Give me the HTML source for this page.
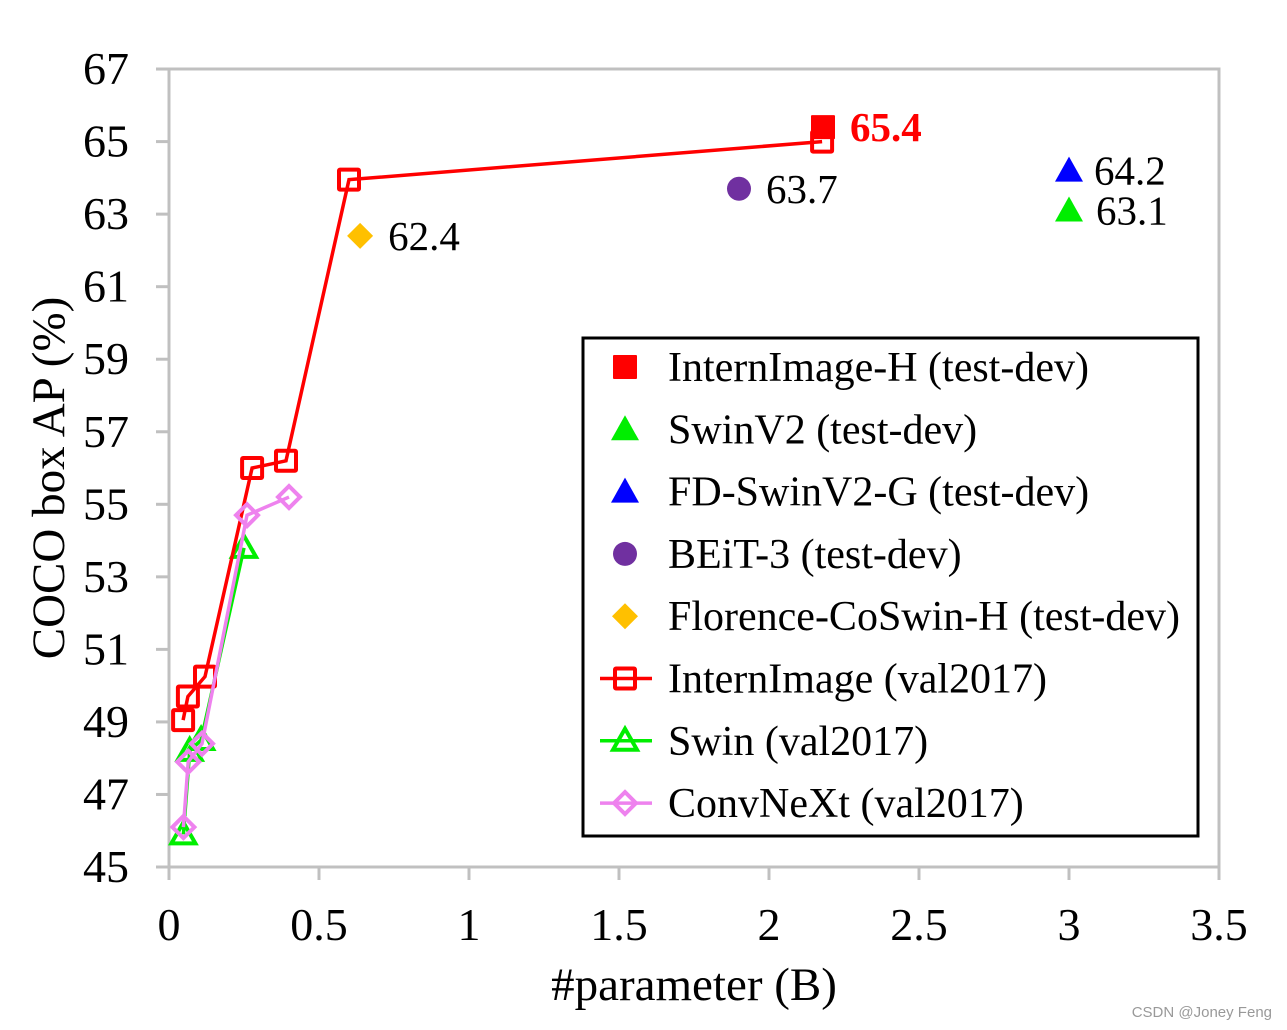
<!DOCTYPE html>
<html><head><meta charset="utf-8"><style>
html,body{margin:0;padding:0;background:#fff;width:1287px;height:1030px;overflow:hidden}
svg text{font-family:"Liberation Serif",serif}
</style></head><body>
<svg id="chart" width="1287" height="1030" xmlns="http://www.w3.org/2000/svg">
<g id="axes"></g><g id="series"></g><g id="legend"></g>
<text x="1272" y="1017" text-anchor="end" font-size="15" fill="#999" style="font-family:'Liberation Sans',sans-serif">CSDN @Joney Feng</text>
</svg>
<script>
const xTicks=[0,0.5,1,1.5,2,2.5,3,3.5];
const xTickLabels=["0","0.5","1","1.5","2","2.5","3","3.5"];
const yTicks=[45,47,49,51,53,55,57,59,61,63,65,67];
const internX=[0.047,0.063,0.12,0.277,0.39,0.6,2.177];
const internY=[49.05,49.7,50.25,56.0,56.2,63.95,65.0];
const swinX=[0.048,0.069,0.107,0.25];
const swinY=[45.9,48.2,48.5,53.8];
const convX=[0.048,0.064,0.11,0.26,0.4];
const convY=[46.1,47.9,48.4,54.7,55.2];
const singleNames=["InternImage-H (test-dev)","SwinV2 (test-dev)","FD-SwinV2-G (test-dev)","BEiT-3 (test-dev)","Florence-CoSwin-H (test-dev)"];
const singleX=[2.18,3.0,3.0,1.9,0.637];
const singleY=[65.4,63.1,64.2,63.7,62.4];
const singleLabels=["65.4","63.1","64.2","63.7","62.4"];

const NS="http://www.w3.org/2000/svg";
const X0=169,XS=300,Y0=867,YS=36.27;
const sx=v=>X0+v*XS, sy=v=>Y0-(v-45)*YS;
function mk(tag,attrs,parent){const e=document.createElementNS(NS,tag);for(const k in attrs)e.setAttribute(k,attrs[k]);parent.appendChild(e);return e;}
const axes=document.getElementById('axes'),ser=document.getElementById('series'),leg=document.getElementById('legend');
const G="#c0c0c0";
let f=mk('path',{d:`M${sx(0)-13} ${sy(67)}H${sx(3.5)}V${sy(45)}`,fill:'none',stroke:G,'stroke-width':3},axes);

let ya=mk('line',{x1:sx(0),x2:sx(0),y1:sy(67),y2:sy(45)+13,stroke:G,'stroke-width':3},axes);

let xa=mk('line',{x1:sx(0)-13,x2:sx(3.5),y1:sy(45),y2:sy(45),stroke:G,'stroke-width':3},axes);

yTicks.forEach(t=>{
 mk('line',{x1:sx(0)-13,x2:sx(0),y1:sy(t),y2:sy(t),stroke:G,'stroke-width':3},axes);
 const tx=mk('text',{x:129,y:sy(t)+15,'font-size':46,'text-anchor':'end'},axes);tx.textContent=t;
 
});
xTicks.forEach((t,i)=>{
 mk('line',{x1:sx(t),x2:sx(t),y1:sy(45),y2:sy(45)+13,stroke:G,'stroke-width':3},axes);
 const tx=mk('text',{x:sx(t),y:940,'font-size':46,'text-anchor':'middle'},axes);tx.textContent=xTickLabels[i];
 
});
let xt=mk('text',{x:694,y:1000,'font-size':47,'text-anchor':'middle'},axes);xt.textContent="#parameter (B)";

let yt=mk('text',{x:0,y:0,'font-size':47,'text-anchor':'middle',transform:'translate(64,478) rotate(-90)'},axes);yt.textContent="COCO box AP (%)";


function marker(type,x,y,color,filled,p,s){
 s=s||11;const st=filled?{fill:color}:{fill:'none',stroke:color,'stroke-width':4};
 if(type==='sq')return mk('rect',Object.assign({x:x-s,y:y-s,width:2*s,height:2*s,rx:1},st),p);
 if(type==='tri')return mk('path',Object.assign({d:`M${x} ${y-s-2}L${x+s+2} ${y+s-1}H${x-s-2}Z`},st),p);
 if(type==='dia')return mk('path',Object.assign({d:`M${x} ${y-s-1}L${x+s+1} ${y}L${x} ${y+s+1}L${x-s-1} ${y}Z`},st),p);
 if(type==='cir')return mk('circle',Object.assign({cx:x,cy:y,r:s},st),p);
}
function line(xs,ys,color,type,name){
 const g=mk('g',{},ser);
 const pts=xs.map((v,i)=>sx(v)+','+sy(ys[i])).join(' ');
 const pl=mk('polyline',{points:pts,fill:'none',stroke:color,'stroke-width':3.5},g);
 
 xs.forEach((v,i)=>{const m=marker(type,sx(v),sy(ys[i]),color,false,g,10);
  });
}
line(swinX,swinY,'#00ee00','tri','swin-series');
line(internX,internY,'#ff0000','sq','internimage-series');
line(convX,convY,'#ee82ee','dia','convnext-series');

const sType=['sq','tri','tri','cir','dia'],sCol=['#ff0000','#00ee00','#0000ff','#7030a0','#ffc000'];
const lblOff=[[27,0],[27,0],[25,0],[27,0],[28,0]];
singleX.forEach((v,i)=>{
 const m=marker(sType[i],sx(v),sy(singleY[i]),sCol[i],true,ser,12);
 
 const t=mk('text',{x:sx(v)+lblOff[i][0],y:sy(singleY[i])+14,'font-size':41},ser);t.textContent=singleLabels[i];
 if(i===0){t.setAttribute('fill','#ff0000');t.setAttribute('font-weight','bold');}
 
});

let box=mk('rect',{x:583,y:338,width:615,height:498,fill:'#fff',stroke:'#000','stroke-width':3},leg);

const legNames=singleNames.concat(["InternImage (val2017)","Swin (val2017)","ConvNeXt (val2017)"]);
const legType=sType.concat(['sq','tri','dia']),legCol=sCol.concat(['#ff0000','#00ee00','#ee82ee']);
legNames.forEach((n,i)=>{
 const y=367+i*62.3;
 const g=mk('g',{},leg);
 if(i>=5)mk('line',{x1:600,x2:652,y1:y,y2:y,stroke:legCol[i],'stroke-width':3.5},g);
 marker(legType[i],625,y,legCol[i],i<5,g,i<5?12:10);
 const t=mk('text',{x:668,y:y+14,'font-size':42},g);t.textContent=n;
});
</script>
</body></html>
